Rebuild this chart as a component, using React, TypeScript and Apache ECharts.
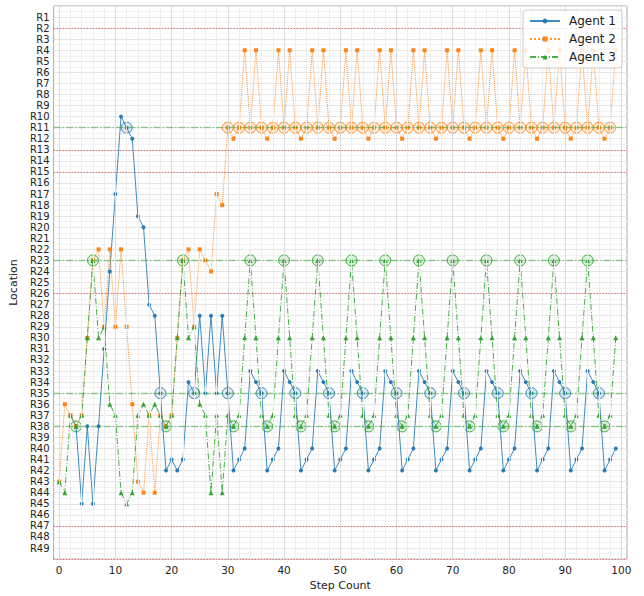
import React, { useEffect, useRef } from "react";
import * as echarts from "echarts";

// Step index 0..99
const steps: number[] = Array.from({ length: 100 }, (_, i) => i);

// Row number (R1..R49) visited by each agent at each step
const agent1: (number | null)[] = [
  null, null, 37, 38, 45, 38, 45, 38, 31, 24,
  17, 10, 11, 12, 19, 20, 27, 28, 35, 42,
  41, 42, 41, 34, 35, 28, 35, 28, 35, 28,
  35, 42, 41, 40, 33, 34, 35, 42, 41, 40,
  33, 34, 35, 42, 41, 40, 33, 34, 35, 42,
  41, 40, 33, 34, 35, 42, 41, 40, 33, 34,
  35, 42, 41, 40, 33, 34, 35, 42, 41, 40,
  33, 34, 35, 42, 41, 40, 33, 34, 35, 42,
  41, 40, 33, 34, 35, 42, 41, 40, 33, 34,
  35, 42, 41, 40, 33, 34, 35, 42, 41, 40,
];
const agent2: number[] = [
  43, 36, 37, 38, 37, 30, 23, 22, 29, 22,
  29, 22, 29, 36, 43, 44, 37, 44, 37, 38,
  37, 30, 23, 22, 29, 22, 23, 24, 17, 18,
  11, 12, 11, 4, 11, 4, 11, 12, 11, 4,
  11, 4, 11, 12, 11, 4, 11, 4, 11, 12,
  11, 4, 11, 4, 11, 12, 11, 4, 11, 4,
  11, 12, 11, 4, 11, 4, 11, 12, 11, 4,
  11, 4, 11, 12, 11, 4, 11, 4, 11, 12,
  11, 4, 11, 4, 11, 12, 11, 4, 11, 4,
  11, 12, 11, 4, 11, 4, 11, 12, 11, 4,
];
const agent3: number[] = [
  43, 44, 37, 38, 37, 30, 23, 30, 29, 36,
  37, 44, 45, 44, 37, 36, 37, 36, 37, 38,
  37, 30, 23, 30, 29, 36, 37, 44, 37, 44,
  37, 38, 37, 30, 23, 30, 37, 38, 37, 30,
  23, 30, 37, 38, 37, 30, 23, 30, 37, 38,
  37, 30, 23, 30, 37, 38, 37, 30, 23, 30,
  37, 38, 37, 30, 23, 30, 37, 38, 37, 30,
  23, 30, 37, 38, 37, 30, 23, 30, 37, 38,
  37, 30, 23, 30, 37, 38, 37, 30, 23, 30,
  37, 38, 37, 30, 23, 30, 37, 38, 37, 30,
];

// Steps at which a goal ring is drawn for each agent
const rings1: number[] = [12, 18, 24, 30, 36, 42, 48, 54, 60, 66, 72, 78, 84, 90, 96];
const rings2: number[] = [
  30, 32, 34, 36, 38, 40, 42, 44, 46, 48, 50, 52, 54, 56, 58, 60, 62, 64,
  66, 68, 70, 72, 74, 76, 78, 80, 82, 84, 86, 88, 90, 92, 94, 96, 98,
];
const rings3: number[] = [
  3, 6, 19, 22, 31, 34, 37, 40, 43, 46, 49, 52, 55, 58, 61, 64, 67, 70,
  73, 76, 79, 82, 85, 88, 91, 94, 97,
];

// Reference rows
const redRows: number[] = [2, 13, 15, 26, 47, 50];
const greenRows: number[] = [11, 23, 35, 38];

// Tick values
const xMajorTicks: number[] = [0, 10, 20, 30, 40, 50, 60, 70, 80, 90, 100];
const xMinorTicks: number[] = Array.from({ length: 51 }, (_, i) => i * 2).filter(
  (v) => v % 10 !== 0
);

const names = ["Agent 1", "Agent 2", "Agent 3"];
const colors = ["#1f77b4", "#ff7f0e", "#2ca02c"];
const FONT = "DejaVu Sans";

export default function App() {
  const ref = useRef<HTMLDivElement>(null);

  useEffect(() => {
    if (!ref.current) return;
    const chart = echarts.init(ref.current, null, { renderer: "svg" });

    const toPairs = (arr: (number | null)[]) =>
      steps.map((s, i) => [s, arr[i] === null ? null : arr[i]]);
    const ringPairs = (arr: (number | null)[], rs: number[]) =>
      rs.map((s) => [s, arr[s]]);

    const fill = [
      "rgba(31,119,180,0.18)",
      "rgba(255,127,14,0.18)",
      "rgba(44,160,44,0.18)",
    ];

    const option: any = {
      animation: false,
      backgroundColor: "#ffffff",
      grid: {
        left: 51,
        right: 17,
        top: 6,
        bottom: 29,
        show: true,
        borderColor: "#a8a8a8",
        borderWidth: 1,
        backgroundColor: "transparent",
      },
      legend: {
        data: names,
        orient: "vertical",
        right: 22,
        top: 10,
        z: 20,
        itemWidth: 30,
        itemHeight: 6,
        itemGap: 6,
        padding: [5, 6, 5, 6],
        backgroundColor: "rgba(255,255,255,0.82)",
        borderColor: "#cccccc",
        borderWidth: 1,
        borderRadius: 3,
        textStyle: { fontFamily: FONT, fontSize: 12, color: "#222", padding: [0, 0, 0, 4] },
      },
      xAxis: {
        type: "value",
        min: -1,
        max: 101,
        name: "Step Count",
        nameLocation: "middle",
        nameGap: 19,
        nameTextStyle: { fontFamily: FONT, fontSize: 11, color: "#222" },
        axisLine: { show: false },
        axisTick: { show: true, customValues: xMajorTicks, length: 3, lineStyle: { color: "#777" } },
        axisLabel: {
          customValues: xMajorTicks,
          fontFamily: FONT,
          fontSize: 10.5,
          color: "#222",
          margin: 5,
        },
        splitLine: { show: false },
      },
      yAxis: {
        type: "value",
        inverse: true,
        min: 0,
        max: 50,
        interval: 1,
        name: "Location",
        nameLocation: "middle",
        nameGap: 33,
        nameRotate: 90,
        nameTextStyle: { fontFamily: FONT, fontSize: 11, color: "#222" },
        axisLine: { show: false },
        axisTick: { show: false },
        axisLabel: {
          fontFamily: FONT,
          fontSize: 10,
          lineHeight: 10,
          color: "#222",
          margin: 4,
          formatter: (v: number) => (v >= 1 && v <= 49 ? "R" + v : ""),
        },
        splitLine: { show: true, lineStyle: { color: "#e6e6e6", width: 1 } },
        minorTick: { show: false, splitNumber: 2 },
        minorSplitLine: { show: true, lineStyle: { color: "#f4f4f4", width: 1 } },
      },
      series: [
        {
          name: "_grid",
          type: "line",
          data: [],
          z: 1,
          silent: true,
          markLine: {
            silent: true,
            symbol: "none",
            label: { show: false },
            animation: false,
            data: [
              ...xMinorTicks.map((x) => ({
                xAxis: x,
                lineStyle: { color: "#eeeeee", width: 1, type: "solid" },
              })),
              ...xMajorTicks.map((x) => ({
                xAxis: x,
                lineStyle: { color: "#dcdcdc", width: 1, type: "solid" },
              })),
              ...redRows.map((r) => ({
                yAxis: r,
                lineStyle: { color: "#d62728", width: 1, type: [1.5, 1.5], opacity: 0.6 },
              })),
              ...greenRows.map((r) => ({
                yAxis: r,
                lineStyle: { color: "#2ca02c", width: 1.3, type: [7, 2, 1.5, 2], opacity: 0.5 },
              })),
            ],
          },
        },
        ...[agent1, agent2, agent3].map((arr, k) => ({
          name: names[k] + " goals",
          type: "scatter",
          data: ringPairs(arr, [rings1, rings2, rings3][k]),
          symbol: "circle",
          symbolSize: 11,
          z: 3,
          silent: true,
          itemStyle: { color: fill[k], borderColor: colors[k], borderWidth: 1, opacity: 0.85 },
        })),
        ...[agent1, agent2, agent3].map((arr, k) => ({
          name: names[k],
          type: "line",
          data: toPairs(arr),
          z: 4,
          connectNulls: false,
          showSymbol: true,
          symbol: ["circle", "rect", "triangle"][k],
          symbolSize: [4, 4, 5][k],
          lineStyle: {
            color: colors[k],
            width: 1,
            type: ["solid", "dotted", [6, 2, 1, 2]][k],
            opacity: 0.85,
          },
          itemStyle: { color: colors[k], opacity: 0.95 },
          emphasis: { disabled: true },
        })),
      ],
    };

    chart.setOption(option);
    return () => {
      chart.dispose();
    };
  }, []);

  return (
    <div
      ref={ref}
      style={{ position: "fixed", left: 0, top: 0, width: 644, height: 596 }}
    />
  );
}
